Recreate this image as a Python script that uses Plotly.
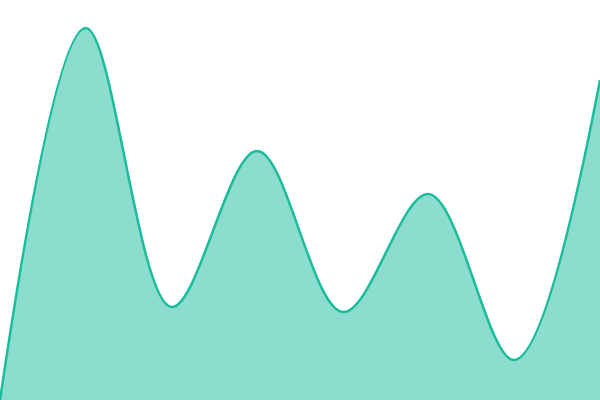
import plotly.graph_objects as go

# points along the curve, evenly spaced
x_vals = [0, 1, 2, 3, 4, 5, 6, 7]
y_vals = [0, 372, 93, 249, 88, 206, 40, 320]

fig = go.Figure()
fig.add_trace(go.Scatter(
    x=x_vals,
    y=y_vals,
    mode="lines",
    line=dict(color="#1abc9c", width=2.5, shape="spline", smoothing=1),
    fill="tozeroy",
    fillcolor="rgba(26,188,156,0.5)",
    hoverinfo="skip",
))

fig.update_xaxes(visible=False, range=[0, 7])
fig.update_yaxes(visible=False, range=[0, 400])

fig.update_layout(
    width=600,
    height=400,
    margin=dict(l=0, r=0, t=0, b=0),
    paper_bgcolor="white",
    plot_bgcolor="white",
    showlegend=False,
)

fig.write_html(
    "out.html",
    config={"displayModeBar": False},
    post_script="document.body.style.margin='0';document.body.style.overflow='hidden';",
)
